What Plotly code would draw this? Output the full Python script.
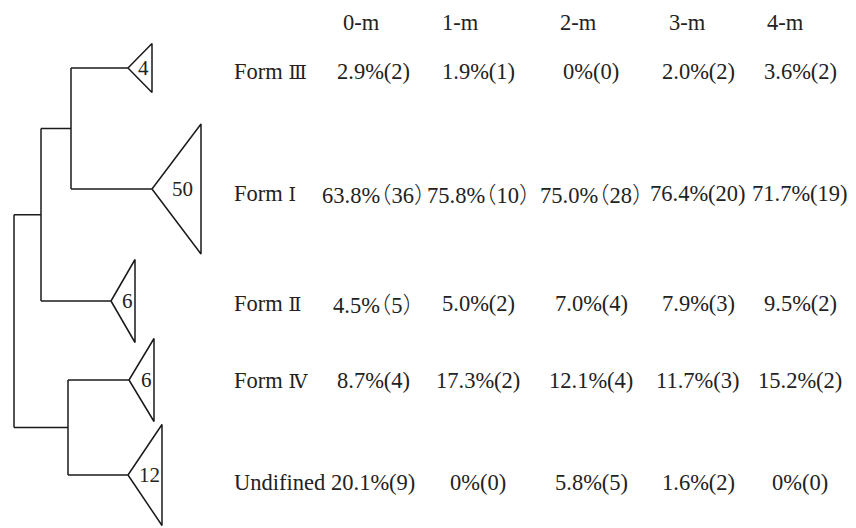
import plotly.graph_objects as go

# ---------------- data ----------------
columns = ["0-m", "1-m", "2-m", "3-m", "4-m"]
forms = ["Form Ⅲ", "Form Ⅰ", "Form Ⅱ", "Form Ⅳ", "Undifined"]
cluster_sizes = [4, 50, 6, 6, 12]

row_formIII = ["2.9%(2)", "1.9%(1)", "0%(0)", "2.0%(2)", "3.6%(2)"]
row_formI = ["63.8%（36）", "75.8%（10）", "75.0%（28）", "76.4%(20)", "71.7%(19)"]
row_formII = ["4.5%（5）", "5.0%(2)", "7.0%(4)", "7.9%(3)", "9.5%(2)"]
row_formIV = ["8.7%(4)", "17.3%(2)", "12.1%(4)", "11.7%(3)", "15.2%(2)"]
row_undef = ["20.1%(9)", "0%(0)", "5.8%(5)", "1.6%(2)", "0%(0)"]
table_rows = [row_formIII, row_formI, row_formII, row_formIV, row_undef]

# dendrogram topology: (child_a, child_b, node depth on x axis)
# leaves 0..4, internal nodes 5..8
tree_merges = [(0, 1, 71), (5, 2, 41), (3, 4, 68), (6, 7, 14)]

# ---------------- layout / style ----------------
W, H = 856, 528
leaf_y = [68, 189, 301, 380, 475]
leaf_tip_x = [128, 152, 111, 129, 128]
tri_back_x = [152, 201, 135, 154, 162]
tri_half_h = [24.5, 65, 41.5, 41.5, 50.5]
tri_label_x = [143, 182, 127, 146, 149]

row_text_y = [71, 193, 303, 380, 482]
header_y = 22
header_x = [361, 460, 578, 687, 785]
col_x = [373, 478, 591, 698, 800]
label_x = 232

LINE = "#1a1a1a"
TXT = "#222222"
FONT = "Liberation Serif, Times New Roman, serif"
FS = 22.5

PAREN_STYLE = "font-family:'Noto Sans CJK SC';font-feature-settings:'halt';font-weight:300"
ROMAN_STYLE = "font-family:'DejaVu Serif';font-size:19px"


def fmt(s):
    for ch in "（）":
        s = s.replace(ch, '<span style="%s">%s</span>' % (PAREN_STYLE, ch))
    return s


def fmt_label(s):
    for ch in "ⅠⅡⅢⅣ":
        s = s.replace(ch, '<span style="%s">%s</span>' % (ROMAN_STYLE, ch))
    return s


fig = go.Figure()

node_x = {}
node_y = {}
for i in range(len(cluster_sizes)):
    node_x[i] = leaf_tip_x[i]
    node_y[i] = leaf_y[i]

segs_x, segs_y = [], []
nid = len(cluster_sizes)
for a, b, depth in tree_merges:
    node_x[nid] = depth
    node_y[nid] = (node_y[a] + node_y[b]) / 2
    segs_x += [depth, depth, None]
    segs_y += [node_y[a], node_y[b], None]
    for c in (a, b):
        segs_x += [depth, node_x[c], None]
        segs_y += [node_y[c], node_y[c], None]
    nid += 1

fig.add_trace(go.Scatter(x=segs_x, y=segs_y, mode="lines",
                         line=dict(color=LINE, width=1.5),
                         hoverinfo="skip", showlegend=False))

for i, n in enumerate(cluster_sizes):
    tx = [leaf_tip_x[i], tri_back_x[i], tri_back_x[i], leaf_tip_x[i]]
    ty = [leaf_y[i], leaf_y[i] - tri_half_h[i], leaf_y[i] + tri_half_h[i], leaf_y[i]]
    fig.add_trace(go.Scatter(x=tx, y=ty, mode="lines",
                             line=dict(color=LINE, width=1.5),
                             hoverinfo="skip", showlegend=False))
    fig.add_annotation(x=tri_label_x[i], y=leaf_y[i], text=str(n),
                       showarrow=False, xanchor="center", yanchor="middle",
                       font=dict(family=FONT, size=21, color=TXT))

for c, hx in zip(columns, header_x):
    fig.add_annotation(x=hx, y=header_y, text=c, showarrow=False,
                       xanchor="center", yanchor="middle",
                       font=dict(family=FONT, size=FS, color=TXT))

for r, (name, vals) in enumerate(zip(forms, table_rows)):
    fig.add_annotation(x=label_x, y=row_text_y[r], text=fmt_label(name), showarrow=False,
                       xanchor="left", yanchor="middle",
                       font=dict(family=FONT, size=FS, color=TXT))
    for c, v in enumerate(vals):
        fig.add_annotation(x=col_x[c], y=row_text_y[r], text=fmt(v), showarrow=False,
                           xanchor="center", yanchor="middle",
                           font=dict(family=FONT, size=FS, color=TXT))

fig.update_layout(
    width=W, height=H,
    margin=dict(l=0, r=0, t=0, b=0),
    paper_bgcolor="white", plot_bgcolor="white",
    xaxis=dict(range=[0, W], visible=False, fixedrange=True),
    yaxis=dict(range=[H, 0], visible=False, fixedrange=True),
    showlegend=False,
)

fig.write_html("out.html", config={"displayModeBar": False},
               post_script="document.body.style.margin='0';document.body.style.overflow='hidden';")
